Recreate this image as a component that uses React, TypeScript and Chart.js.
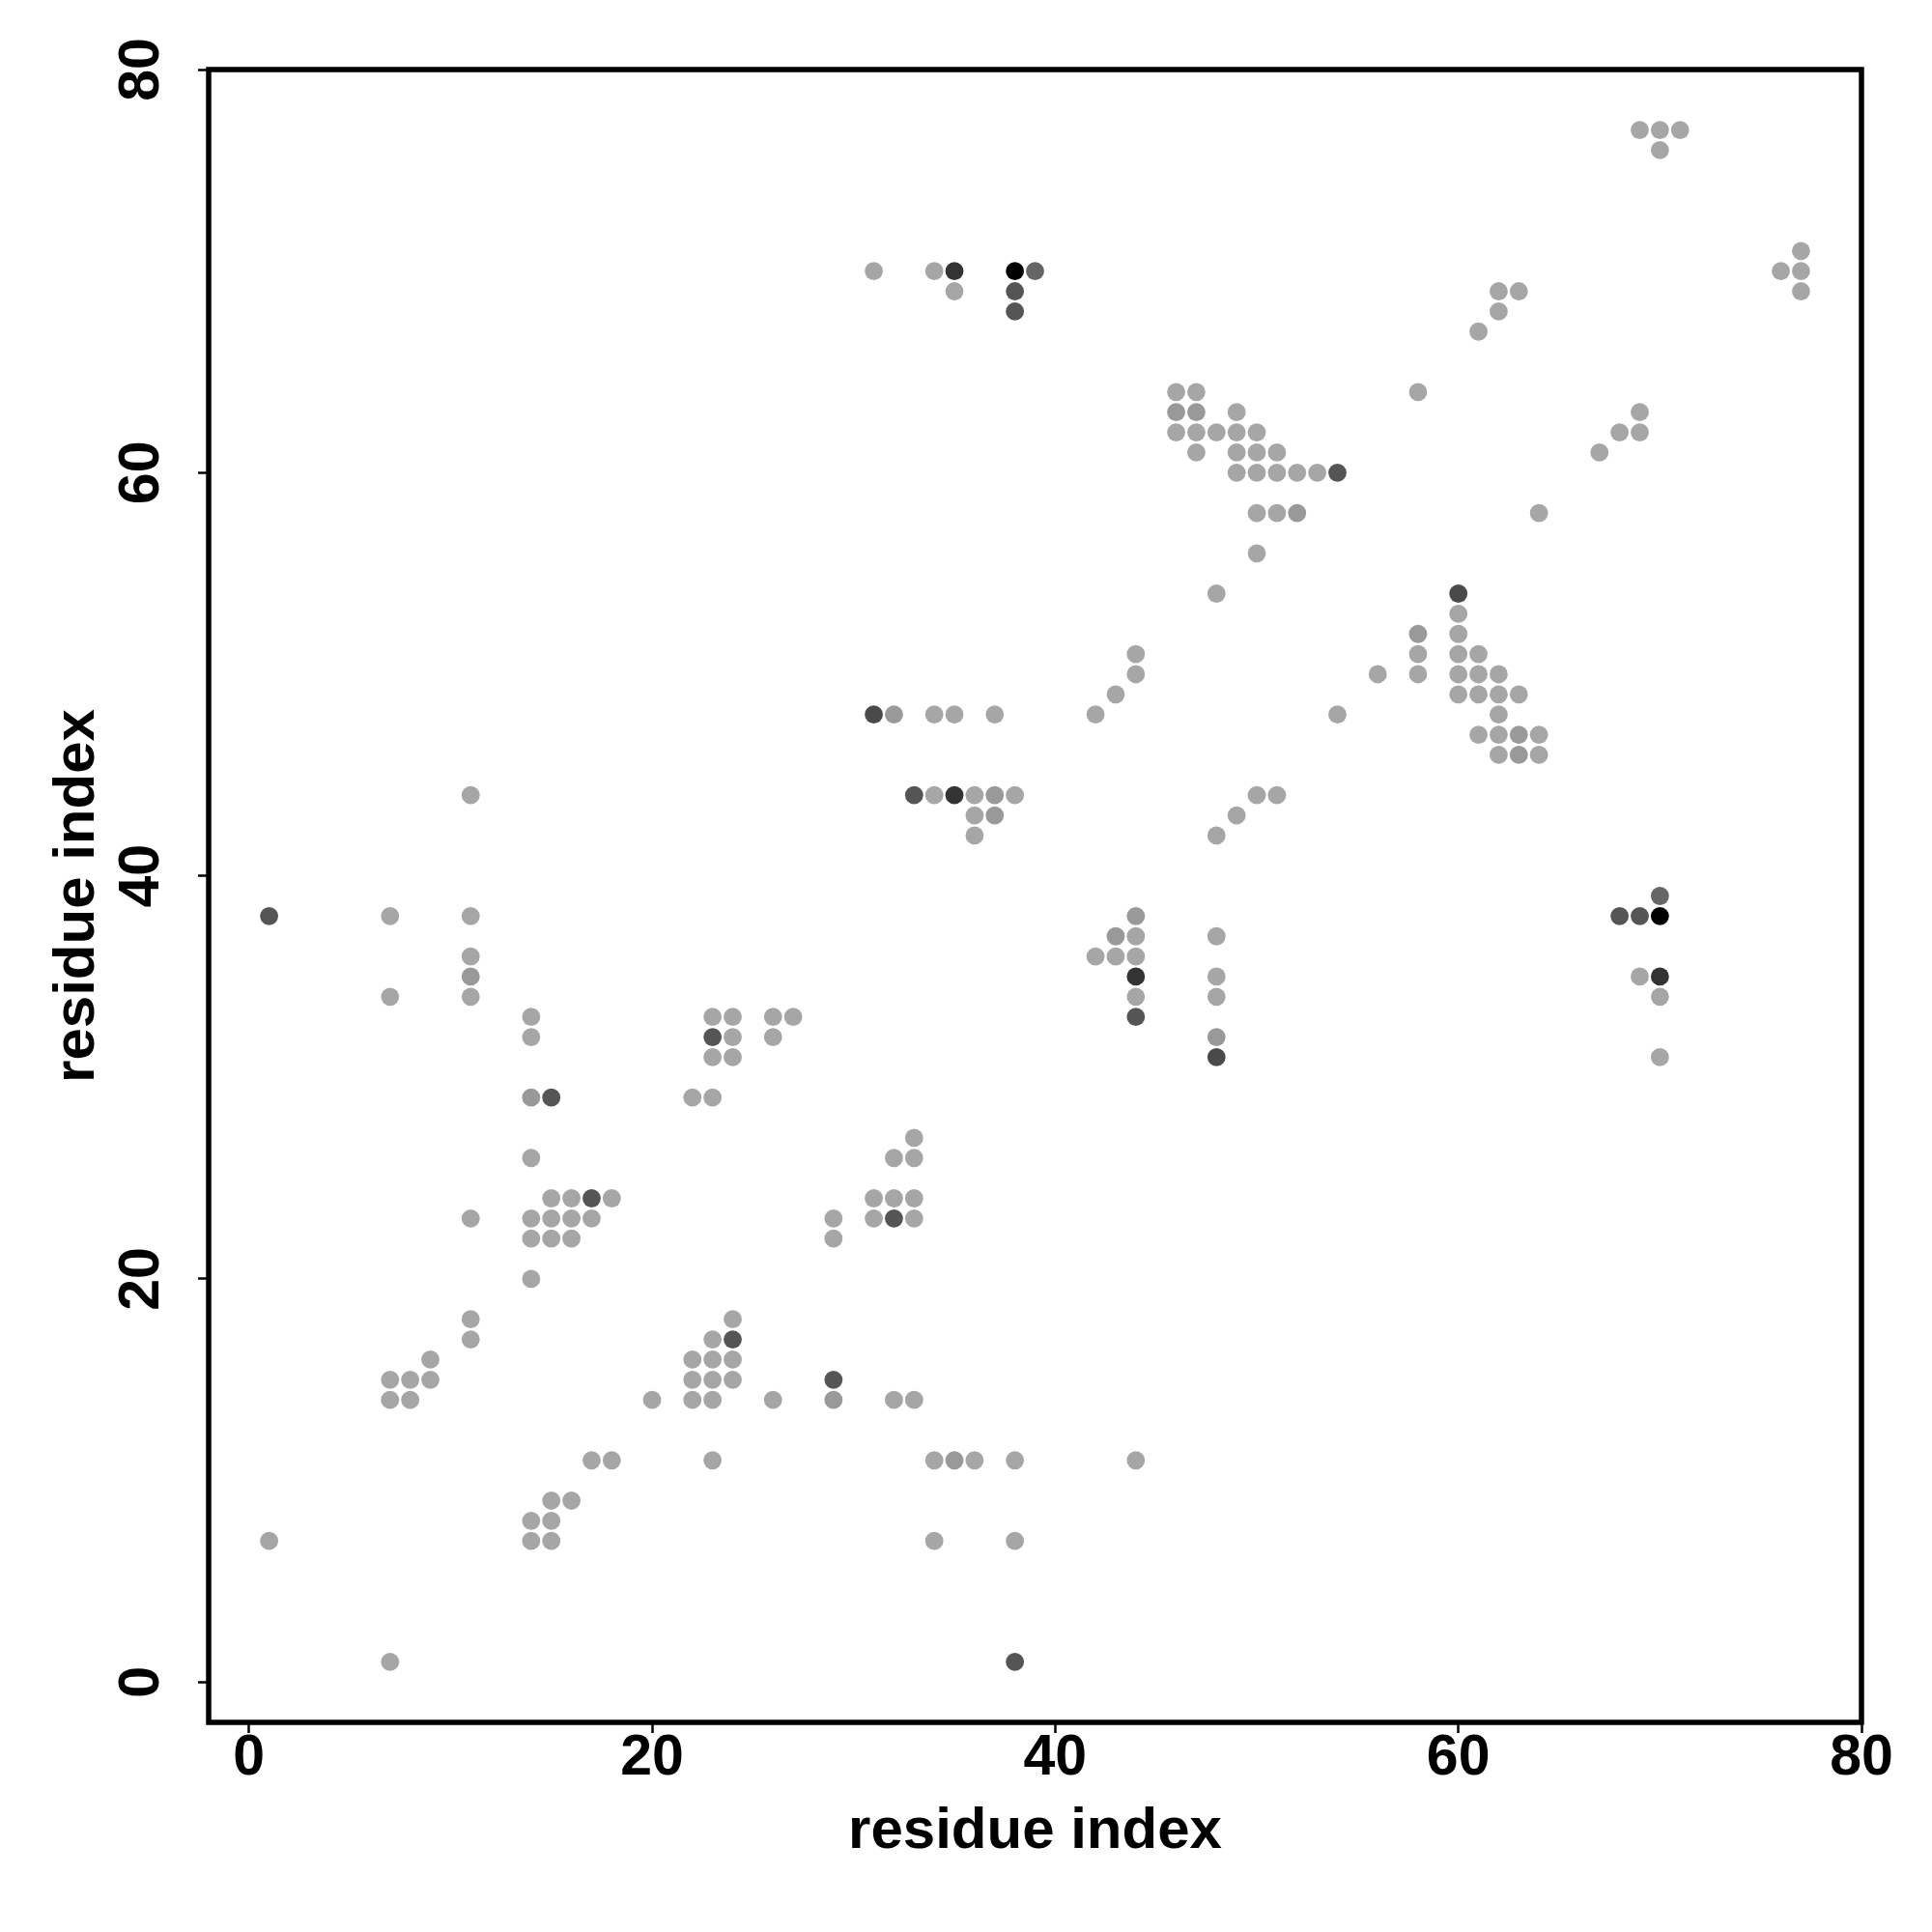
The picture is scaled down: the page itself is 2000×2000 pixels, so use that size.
import React, { useEffect, useRef } from "react";
import { Chart, registerables } from "chart.js";

Chart.register(...registerables);

// residue i (x), residue j (y), and contact strength level (1 = weakest ... 7 = strongest)
const contactI = [
  31, 34, 35, 35, 38, 39, 38, 38,
  69, 70, 71, 70,
  76, 77, 77, 77,
  61, 62, 62, 63,
  58,
  46, 47,
  46, 47, 49,
  46, 47, 48, 49, 50,
  47, 49, 50, 51,
  49, 50, 51, 52, 53, 54,
  50, 51, 52,
  50,
  48,
  64,
  67, 68, 69, 69,
  60, 60, 60, 58, 58, 56, 58,
  60, 61,
  60, 61, 62,
  60, 61, 62, 63,
  62, 54,
  61, 62, 63, 64,
  62, 63, 64,
  70, 68, 69, 70, 69, 70, 70, 70,
  31, 32, 34, 35, 37,
  33, 34, 35, 36, 37, 38,
  36, 37, 36,
  42, 43, 44, 44,
  50, 51, 49, 48,
  44, 43, 44, 42, 43, 44, 44, 44, 44,
  48, 48, 48, 48, 48,
  26, 27, 26,
  33, 32, 33,
  1, 7, 11, 11, 11, 11, 11, 7,
  14, 14, 14, 15, 14,
  22, 23,
  23, 24, 23, 24, 23, 24,
  15, 16, 17, 18,
  11, 14, 15, 16, 17,
  14, 15, 16,
  14,
  11, 11,
  9, 7, 8, 9, 7, 8,
  17, 18,
  15, 16, 14, 15, 14, 15,
  1, 7,
  20,
  22, 23, 24, 23, 24, 24,
  22, 23, 24, 22, 23,
  23, 26,
  31, 32, 33,
  29, 29,
  31, 32, 33,
  29, 29, 32, 33,
  34, 35, 36, 38, 44,
  34, 38, 38,
];

const contactJ = [
  70, 70, 70, 69, 70, 70, 69, 68,
  77, 77, 77, 76,
  70, 71, 70, 69,
  67, 68, 69, 69,
  64,
  64, 64,
  63, 63, 63,
  62, 62, 62, 62, 62,
  61, 61, 61, 61,
  60, 60, 60, 60, 60, 60,
  58, 58, 58,
  56,
  54,
  58,
  61, 62, 62, 63,
  54, 53, 52, 52, 51, 50, 50,
  51, 51,
  50, 50, 50,
  49, 49, 49, 49,
  48, 48,
  47, 47, 47, 47,
  46, 46, 46,
  39, 38, 38, 38, 35, 35, 34, 31,
  48, 48, 48, 48, 48,
  44, 44, 44, 44, 44, 44,
  43, 43, 42,
  48, 49, 50, 51,
  44, 44, 43, 42,
  38, 37, 37, 36, 36, 36, 35, 34, 33,
  37, 35, 34, 32, 31,
  33, 33, 32,
  27, 26, 26,
  38, 38, 38, 44, 36, 35, 34, 34,
  33, 32, 29, 29, 26,
  29, 29,
  33, 33, 32, 32, 31, 31,
  24, 24, 24, 24,
  23, 23, 23, 23, 23,
  22, 22, 22,
  20,
  18, 17,
  16, 15, 15, 15, 14, 14,
  11, 11,
  9, 9, 8, 8, 7, 7,
  7, 1,
  14,
  16, 16, 16, 17, 17, 18,
  15, 15, 15, 14, 14,
  11, 14,
  24, 24, 24,
  23, 22,
  23, 23, 23,
  15, 14, 14, 14,
  11, 11, 11, 11, 11,
  7, 7, 1,
];

const contactLevel = [
  1, 1, 6, 1, 7, 3, 4, 4,
  1, 1, 1, 1,
  1, 1, 1, 1,
  1, 1, 1, 1,
  1,
  1, 1,
  2, 2, 1,
  1, 1, 1, 1, 1,
  1, 1, 1, 1,
  1, 1, 1, 1, 1, 4,
  1, 1, 2,
  1,
  1,
  1,
  1, 1, 1, 1,
  5, 1, 1, 2, 1, 1, 1,
  1, 1,
  1, 1, 1,
  1, 1, 1, 1,
  1, 1,
  1, 1, 2, 1,
  1, 2, 1,
  3, 4, 4, 7, 1, 6, 1, 1,
  5, 2, 1, 1, 1,
  4, 1, 6, 1, 2, 1,
  1, 2, 1,
  1, 1, 1, 1,
  1, 1, 1, 1,
  2, 2, 1, 1, 1, 1, 6, 1, 4,
  1, 1, 1, 2, 5,
  1, 1, 1,
  1, 1, 1,
  4, 1, 1, 1, 1, 2, 1, 1,
  1, 1, 2, 4, 1,
  1, 1,
  1, 1, 4, 1, 1, 1,
  1, 1, 4, 1,
  1, 1, 1, 1, 1,
  1, 1, 1,
  1,
  1, 1,
  1, 1, 1, 1, 1, 1,
  1, 1,
  1, 1, 1, 1, 1, 1,
  1, 1,
  1,
  1, 1, 1, 1, 4, 1,
  1, 1, 1, 1, 1,
  1, 1,
  1, 1, 1,
  1, 1,
  1, 4, 1,
  4, 2, 1, 1,
  1, 2, 1, 1, 1,
  1, 1, 4,
];

const axisTicks = [0, 20, 40, 60, 80];
const axisMin = -2;
const axisMax = 80;
const xTitle = "residue index";
const yTitle = "residue index";

const levelGrays = ["#a6a6a6", "#999999", "#666666", "#555555", "#4a4a4a", "#333333", "#000000"];
const FONT = "'Liberation Sans', Arial, Helvetica, sans-serif";

const boxPlugin = {
  id: "frameBox",
  afterDatasetsDraw(chart: any) {
    const { ctx, chartArea } = chart;
    const { left, top, right, bottom } = chartArea;
    ctx.save();
    ctx.strokeStyle = "#000";
    ctx.lineWidth = 5.5;
    ctx.strokeRect(left, top, right - left, bottom - top);
    ctx.restore();
  },
};

export default function App() {
  const ref = useRef<HTMLCanvasElement | null>(null);

  useEffect(() => {
    if (!ref.current) return;
    const points = contactI.map((x, k) => ({ x, y: contactJ[k] }));
    const colors = contactLevel.map((l) => levelGrays[l - 1]);
    const setTicks = (s: any) => {
      s.ticks = axisTicks.map((v) => ({ value: v }));
    };
    const chart = new Chart(ref.current, {
      type: "scatter",
      data: {
        datasets: [
          {
            data: points,
            pointRadius: 9.4,
            pointHoverRadius: 9.4,
            pointBackgroundColor: colors,
            pointBorderColor: colors,
            pointBorderWidth: 0,
            pointStyle: "circle",
          },
        ],
      },
      options: {
        animation: false,
        responsive: false,
        maintainAspectRatio: false,
        devicePixelRatio: 1,
        events: [],
        layout: { padding: { top: 72, right: 73, left: 0, bottom: 0 } },
        plugins: { legend: { display: false }, tooltip: { enabled: false } },
        scales: {
          x: {
            type: "linear",
            position: "bottom",
            min: axisMin,
            max: axisMax,
            afterBuildTicks: setTicks,
            afterFit: (s: any) => {
              s.height = 217;
            },
            border: { display: false },
            grid: {
              drawOnChartArea: false,
              drawTicks: true,
              tickLength: 11,
              tickWidth: 2.5,
              tickColor: "#000",
            },
            ticks: {
              color: "#000",
              font: { family: FONT, size: 59, weight: "bold", lineHeight: 1 },
              padding: -3,
              minRotation: 0,
              maxRotation: 0,
              autoSkip: false,
            },
            title: {
              display: true,
              text: xTitle,
              color: "#000",
              font: { family: FONT, size: 60, weight: "bold", lineHeight: 1 },
              padding: { top: 0, bottom: 74 },
            },
          },
          y: {
            type: "linear",
            position: "left",
            min: axisMin,
            max: axisMax,
            afterBuildTicks: setTicks,
            afterFit: (s: any) => {
              s.width = 216;
            },
            border: { display: false },
            grid: {
              drawOnChartArea: false,
              drawTicks: true,
              tickLength: 11,
              tickWidth: 2.5,
              tickColor: "#000",
            },
            ticks: {
              color: "#000",
              font: { family: FONT, size: 59, weight: "bold", lineHeight: 1 },
              padding: 24,
              minRotation: 90,
              maxRotation: 90,
              crossAlign: "center",
              autoSkip: false,
            },
            title: {
              display: true,
              text: yTitle,
              color: "#000",
              font: { family: FONT, size: 60, weight: "bold", lineHeight: 1 },
              padding: { top: 50, bottom: 0 },
            },
          },
        },
      } as any,
      plugins: [boxPlugin],
    });
    return () => chart.destroy();
  }, []);

  return (
    <div style={{ position: "absolute", left: 0, top: 0, width: 2000, height: 2000, background: "#fff" }}>
      <canvas ref={ref} width={2000} height={2000} style={{ width: 2000, height: 2000, display: "block" }} />
    </div>
  );
}
